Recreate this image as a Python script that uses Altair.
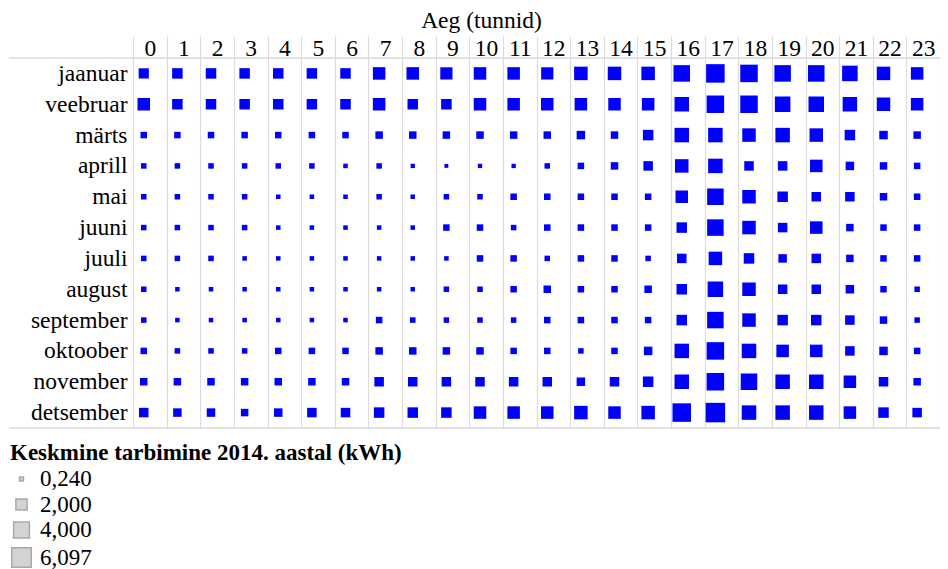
import altair as alt
import pandas as pd

months = ["jaanuar", "veebruar", "märts", "aprill", "mai", "juuni",
          "juuli", "august", "september", "oktoober", "november", "detsember"]
hours = list(range(24))

jaanuar = [1.67, 1.77, 1.77, 1.77, 1.77, 1.77, 1.77, 2.51, 2.51, 2.39, 2.51, 2.51,
           2.39, 2.92, 2.92, 2.92, 4.37, 5.49, 4.91, 4.37, 4.37, 3.86, 2.92, 2.51]
veebruar = [2.51, 1.77, 1.77, 1.77, 1.77, 1.77, 1.77, 2.51, 1.77, 1.77, 2.51, 2.51,
            2.51, 2.51, 2.51, 2.51, 3.37, 4.91, 4.91, 3.86, 3.86, 3.37, 2.92, 2.51]
marts = [0.68, 0.68, 0.68, 0.68, 0.68, 0.68, 0.68, 0.90, 0.90, 0.90, 0.90, 0.90,
         0.90, 1.16, 0.90, 1.77, 3.37, 3.37, 2.92, 3.37, 2.92, 1.77, 1.16, 0.90]
aprill = [0.49, 0.49, 0.49, 0.49, 0.49, 0.49, 0.33, 0.49, 0.30, 0.24, 0.30, 0.30,
          0.49, 0.68, 0.90, 1.45, 2.92, 3.37, 1.45, 1.45, 2.51, 1.16, 0.90, 0.68]
mai = [0.49, 0.49, 0.49, 0.49, 0.33, 0.33, 0.33, 0.49, 0.33, 0.49, 0.49, 0.68,
       0.68, 0.68, 0.68, 0.68, 2.51, 4.37, 2.92, 1.77, 1.45, 1.45, 0.90, 0.68]
juuni = [0.49, 0.49, 0.49, 0.49, 0.33, 0.33, 0.33, 0.33, 0.33, 0.68, 0.68, 0.49,
         0.68, 0.68, 0.68, 0.68, 1.77, 4.37, 2.92, 1.45, 2.51, 0.90, 0.68, 0.68]
juuli = [0.49, 0.49, 0.49, 0.33, 0.33, 0.33, 0.33, 0.33, 0.33, 0.33, 0.68, 0.68,
         0.49, 0.68, 0.68, 0.49, 1.45, 2.92, 1.77, 1.16, 1.45, 0.90, 0.68, 0.68]
august = [0.49, 0.33, 0.33, 0.33, 0.33, 0.33, 0.33, 0.33, 0.33, 0.49, 0.49, 0.68,
          0.90, 0.68, 0.68, 0.90, 1.77, 3.86, 2.92, 1.45, 1.45, 1.16, 0.68, 0.49]
september = [0.49, 0.33, 0.33, 0.33, 0.33, 0.33, 0.33, 0.68, 0.49, 0.49, 0.49, 0.49,
             0.68, 0.68, 0.68, 0.68, 1.77, 4.37, 2.92, 1.77, 1.77, 1.45, 0.90, 0.49]
oktoober = [0.68, 0.49, 0.49, 0.49, 0.68, 0.68, 0.68, 0.90, 0.90, 0.90, 0.90, 0.68,
            0.68, 0.49, 0.68, 1.16, 3.37, 4.91, 3.37, 2.51, 2.51, 1.45, 1.16, 0.68]
november = [0.90, 0.90, 0.90, 0.90, 0.90, 0.90, 0.90, 1.45, 1.45, 1.45, 1.45, 1.45,
            1.45, 1.16, 1.45, 1.77, 3.37, 4.91, 4.37, 3.37, 3.37, 2.51, 1.45, 0.90]
detsember = [1.45, 1.16, 1.16, 0.90, 1.16, 1.45, 1.45, 1.77, 1.77, 1.77, 2.51, 2.51,
             2.51, 2.92, 2.51, 2.92, 5.49, 6.097, 3.37, 3.37, 3.37, 2.51, 1.77, 1.45]

series = [jaanuar, veebruar, marts, aprill, mai, juuni,
          juuli, august, september, oktoober, november, detsember]

legend_values = [0.24, 2.0, 4.0, 6.097]

rows = []
for m, vals in zip(months, series):
    for h, v in zip(hours, vals):
        rows.append({"kuu": m, "tund": h, "kwh": v})
df = pd.DataFrame(rows)

FONT = "Liberation Serif"
W, H = 807, 370
GRID = "#dcdcdc"

squares = alt.Chart(df).transform_calculate(grp="'tarbimine'").mark_square(
    opacity=1, filled=True
).encode(
    x=alt.X(
        "tund:O",
        bandPosition=0.32,
        scale=alt.Scale(paddingInner=0, paddingOuter=0),
        axis=alt.Axis(
            orient="top", title="Aeg (tunnid)", labelAngle=0,
            tickBand="extent", tickSize=22, tickColor=GRID, tickWidth=1.2,
            grid=True, gridColor=GRID, gridWidth=1.2, domain=False,
            labelPadding=-19, labelBaseline="alphabetic",
            labelFont=FONT, labelFontSize=23.5, labelColor="black",
            titleFont=FONT, titleFontSize=23.5, titleFontWeight="normal",
            titleColor="black", titleX=348, titleY=-31,
            titleBaseline="alphabetic", titleAlign="center",
        ),
    ),
    y=alt.Y(
        "kuu:N", sort=months,
        scale=alt.Scale(paddingInner=0, paddingOuter=0),
        axis=alt.Axis(
            title=None, ticks=False, domain=False, grid=False, labelPadding=6,
            labelFont=FONT, labelFontSize=23.5, labelColor="black", labelLimit=300,
        ),
    ),
    color=alt.Color("grp:N", scale=alt.Scale(range=["#0000ff"]), legend=None),
    size=alt.Size(
        "kwh:Q",
        scale=alt.Scale(range=[0, 380], nice=False),
        legend=alt.Legend(
            title="Keskmine tarbimine 2014. aastal (kWh)",
            values=legend_values,
            labelExpr="replace(format(datum.value, '.3f'), '.', ',')",
            orient="none", legendX=-123, legendY=383.5, direction="vertical",
            titleFont=FONT, titleFontSize=23, titleFontWeight="bold",
            titleColor="black", titleLimit=800, titlePadding=3,
            labelFont=FONT, labelFontSize=23, labelColor="black", labelOffset=7,
            symbolType="square", rowPadding=1.5, padding=0,
            symbolFillColor="#d3d3d3", symbolStrokeColor="#a9a9a9",
            symbolStrokeWidth=1.5, symbolOpacity=1,
        ),
    ),
)

line_src = alt.Data(values=[{"k": 1}])
top_line = alt.Chart(line_src).mark_rule(color=GRID, strokeWidth=1.5).encode(
    x=alt.value(-124), x2=alt.value(W), y=alt.value(0)
)
bottom_line = alt.Chart(line_src).mark_rule(color=GRID, strokeWidth=1.5).encode(
    x=alt.value(-124), x2=alt.value(W), y=alt.value(H)
)

chart = alt.layer(squares, top_line, bottom_line).properties(
    width=W, height=H,
    autosize=alt.AutoSizeParams(type="none"),
    padding={"left": 125, "top": 50, "right": 0, "bottom": 150},
).configure_view(stroke=None).configure(font=FONT)

chart.save("out.html", embed_options={"renderer": "svg", "actions": False})
